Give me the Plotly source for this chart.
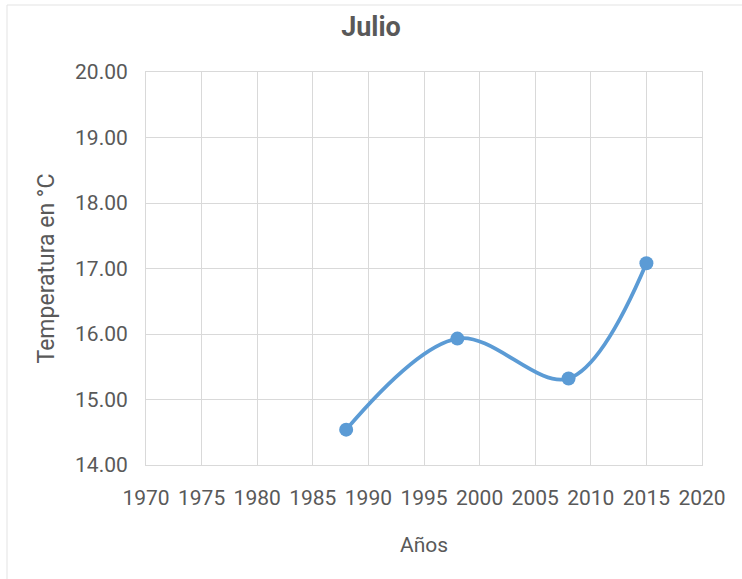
import plotly.graph_objects as go

# July mean temperature by year
years = [1988, 1998, 2008, 2015]
temps = [14.54, 15.93, 15.32, 17.08]

x_ticks = list(range(1970, 2021, 5))
y_ticks = [14, 15, 16, 17, 18, 19, 20]

FONT = "Roboto, Liberation Sans, sans-serif"
TEXT = "#595959"
GRID = "#D9D9D9"
BLUE = "#5B9BD5"

fig = go.Figure(
    go.Scatter(
        x=years,
        y=temps,
        mode="lines+markers",
        line=dict(color=BLUE, width=3.8, shape="spline", smoothing=1.0),
        marker=dict(color=BLUE, size=14),
        showlegend=False,
    )
)

fig.update_layout(
    width=742,
    height=579,
    margin=dict(l=146, r=40, t=72, b=114),
    paper_bgcolor="white",
    plot_bgcolor="white",
    font=dict(family=FONT, color=TEXT, size=21),
    title=dict(
        text="<b>Julio</b>",
        x=0.5,
        xanchor="center",
        y=0.955,
        yanchor="middle",
        font=dict(family=FONT, size=27, color=TEXT),
    ),
    shapes=[
        dict(type="line", xref="paper", yref="paper",
             x0=-0.25, x1=1.1, y0=1.1705, y1=1.1705,
             line=dict(color="#E3E3E3", width=1)),
        dict(type="line", xref="paper", yref="paper",
             x0=-0.25, x1=-0.25, y0=1.1705, y1=-0.4,
             line=dict(color="#E3E3E3", width=1)),
    ],
)

fig.update_xaxes(
    range=[1970, 2020],
    tickvals=x_ticks,
    ticktext=[str(v) for v in x_ticks],
    showgrid=True,
    gridcolor=GRID,
    gridwidth=1,
    showline=True,
    linecolor=GRID,
    mirror=True,
    zeroline=False,
    ticks="",
    ticklabelstandoff=14,
    tickfont=dict(size=21, color=TEXT),
    title=dict(text="Años", standoff=28, font=dict(size=21, color=TEXT)),
)

fig.update_yaxes(
    range=[14, 20],
    tickvals=y_ticks,
    ticktext=[f"{v:.2f}" for v in y_ticks],
    showgrid=True,
    gridcolor=GRID,
    gridwidth=1,
    showline=True,
    linecolor=GRID,
    mirror=True,
    zeroline=False,
    ticks="",
    ticklabelstandoff=13,
    tickfont=dict(size=21, color=TEXT),
    title=dict(text="Temperatura en °C", standoff=13, font=dict(size=23, color=TEXT)),
)

fig.write_html("out.html")
